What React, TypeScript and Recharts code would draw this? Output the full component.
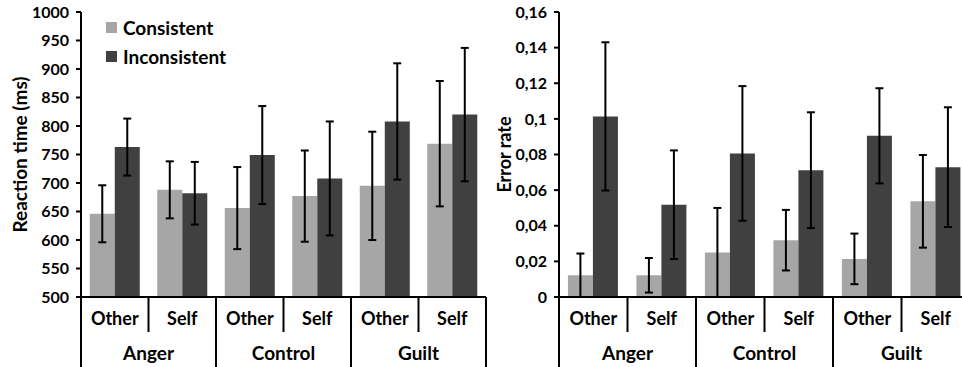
import React from "react";
import { BarChart, Bar, XAxis, YAxis, ErrorBar } from "recharts";

const groups = ["Anger", "Control", "Guilt"];
const conditions = ["Other", "Self", "Other", "Self", "Other", "Self"];

// reaction times (ms), ± error
const rtConsistent = [646, 688, 656, 677, 695, 769];
const rtConsistentErr = [50, 50, 72, 80, 95, 110];
const rtInconsistent = [763, 682, 749, 708, 808, 820];
const rtInconsistentErr = [50, 55, 86, 100, 102, 117];
const rtTicks = [500, 550, 600, 650, 700, 750, 800, 850, 900, 950, 1000];

// error rates, ± error
const erConsistent = [0.0122, 0.0122, 0.025, 0.0319, 0.0214, 0.0537];
const erConsistentErr = [0.0122, 0.0097, 0.025, 0.017, 0.0142, 0.026];
const erInconsistent = [0.1014, 0.0518, 0.0806, 0.0712, 0.0905, 0.0729];
const erInconsistentErr = [0.0416, 0.0305, 0.0378, 0.0325, 0.0267, 0.0336];
const erTicks = [0, 0.02, 0.04, 0.06, 0.08, 0.1, 0.12, 0.14, 0.16];
const erTickLabels = ["0", "0,02", "0,04", "0,06", "0,08", "0,1", "0,12", "0,14", "0,16"];

const LIGHT = "#a6a6a6";
const DARK = "#404040";
const FONT = "Lato, 'Open Sans', sans-serif";

const rtData = conditions.map((condition, i) => ({
  condition,
  consistent: rtConsistent[i],
  consistentErr: rtConsistentErr[i],
  inconsistent: rtInconsistent[i],
  inconsistentErr: rtInconsistentErr[i],
}));

const erData = conditions.map((condition, i) => ({
  condition,
  consistent: erConsistent[i],
  consistentErr: erConsistentErr[i],
  inconsistent: erInconsistent[i],
  inconsistentErr: erInconsistentErr[i],
}));

const CHART_H = 367;
const X_AXIS_H = 70;

function makeTick(fallbackHalf: number) {
  return function CategoryTick(props: any) {
    const { x, y, payload, index } = props;
    const half = payload && payload.offset ? payload.offset : fallbackHalf;
    const first = index % 2 === 0;
    const left = x - half;
    return (
      <g>
        <line x1={left} x2={left} y1={y} y2={y + (first ? X_AXIS_H : 35)} stroke="#000" strokeWidth={2} />
        {index === conditions.length - 1 && (
          <line x1={x + half} x2={x + half} y1={y} y2={y + X_AXIS_H} stroke="#000" strokeWidth={2} />
        )}
        <text x={x} y={y + 28} textAnchor="middle" fontSize={18} fontWeight="bold" fill="#000">
          {payload.value}
        </text>
        {first && (
          <text x={x + half} y={y + 63} textAnchor="middle" fontSize={19} fontWeight="bold" fill="#000">
            {groups[index / 2]}
          </text>
        )}
      </g>
    );
  };
}

const axisTick = { fill: "#000", fontSize: 16, fontWeight: "bold" as const };

function Panel(props: {
  data: any[];
  width: number;
  yWidth: number;
  marginRight: number;
  domain: [number, number];
  ticks: number[];
  fmt?: (v: number) => string;
  label: string;
  labelOffset: number;
  labelSize: number;
}) {
  const { data, width, yWidth, marginRight, domain, ticks, fmt, label, labelOffset, labelSize } = props;
  const half = (width - yWidth - marginRight) / conditions.length / 2;
  return (
    <BarChart
      width={width}
      height={CHART_H}
      data={data}
      margin={{ top: 12, right: marginRight, left: 0, bottom: 0 }}
      barCategoryGap="13%"
      barGap={0}
    >
      <XAxis
        dataKey="condition"
        height={X_AXIS_H}
        interval={0}
        tickLine={false}
        tickSize={0}
        tickMargin={0}
        axisLine={{ stroke: "#000", strokeWidth: 2 }}
        tick={makeTick(half)}
      />
      <YAxis
        width={yWidth}
        domain={domain}
        ticks={ticks}
        interval={0}
        tickSize={5}
        tickMargin={7}
        tick={axisTick}
        tickFormatter={fmt}
        axisLine={{ stroke: "#000", strokeWidth: 2 }}
        tickLine={{ stroke: "#000", strokeWidth: 2 }}
        label={{
          value: label,
          angle: -90,
          position: "insideLeft",
          offset: labelOffset,
          style: { textAnchor: "middle", fontSize: labelSize, fontWeight: "bold", fill: "#000" },
        }}
      />
      <Bar dataKey="consistent" fill={LIGHT} isAnimationActive={false}>
        <ErrorBar dataKey="consistentErr" width={4} stroke="#000" strokeWidth={2} />
      </Bar>
      <Bar dataKey="inconsistent" fill={DARK} isAnimationActive={false}>
        <ErrorBar dataKey="inconsistentErr" width={4} stroke="#000" strokeWidth={2} />
      </Bar>
    </BarChart>
  );
}

export default function App() {
  return (
    <div
      style={{
        position: "fixed",
        left: 0,
        top: 0,
        width: 962,
        height: CHART_H,
        overflow: "hidden",
        background: "#fff",
        fontFamily: FONT,
      }}
    >
      <div style={{ position: "absolute", left: 0, top: 0 }}>
        <Panel
          data={rtData}
          width={490}
          yWidth={81}
          marginRight={4}
          domain={[500, 1000]}
          ticks={rtTicks}
          label="Reaction time (ms)"
          labelOffset={20}
          labelSize={19}
        />
      </div>
      <div style={{ position: "absolute", left: 480, top: 0 }}>
        <Panel
          data={erData}
          width={492}
          yWidth={79}
          marginRight={2}
          domain={[0, 0.16]}
          ticks={erTicks}
          fmt={(v) => erTickLabels[erTicks.indexOf(v)] ?? String(v)}
          label="Error rate"
          labelOffset={25}
          labelSize={18}
        />
      </div>
      <div
        style={{
          position: "absolute",
          left: 106,
          top: 13,
          fontSize: 19,
          fontWeight: "bold",
          color: "#000",
          lineHeight: "29px",
        }}
      >
        {[
          { name: "Consistent", color: LIGHT },
          { name: "Inconsistent", color: DARK },
        ].map((item) => (
          <div key={item.name} style={{ display: "flex", alignItems: "center" }}>
            <span style={{ display: "inline-block", width: 11, height: 11, background: item.color, marginRight: 6 }} />
            {item.name}
          </div>
        ))}
      </div>
    </div>
  );
}
